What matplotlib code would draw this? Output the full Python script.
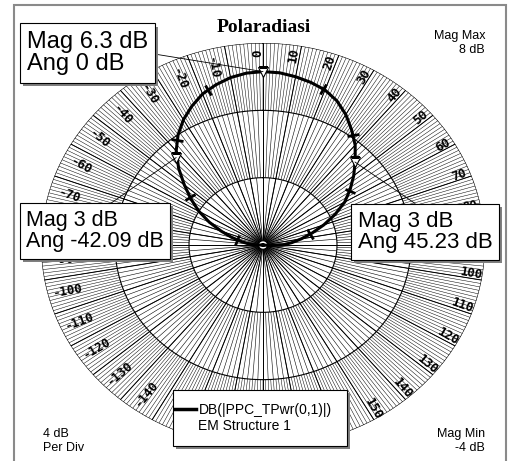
import numpy as np
import matplotlib
matplotlib.use('Agg')
import matplotlib.pyplot as plt
from matplotlib import patheffects as pe
from matplotlib.markers import MarkerStyle
from matplotlib.transforms import Affine2D
from matplotlib.patches import Rectangle
from matplotlib.lines import Line2D

plt.rcParams['font.family'] = ['Liberation Sans', 'DejaVu Sans']

# trace DB(|PPC_TPwr(0,1)|): angle (deg) vs magnitude (dB)
angle_deg = np.array([-100, -95, -90, -85, -80, -75, -70, -65, -60, -55, -50, -45, -40,
                      -35, -30, -25, -20, -15, -10, -5, 0, 5, 10, 15, 20, 25, 30, 35,
                      40, 45, 50, 55, 60, 65, 70, 75, 80, 85, 90, 95, 100])
mag_db = np.array([-4.5, -4.1, -3.6, -3.2, -2.8, -2.25, -1.6, -0.8, 0.0, 0.75, 1.55, 2.45, 3.3,
                   4.0, 4.6, 5.1, 5.55, 5.85, 6.1, 6.25, 6.3, 6.27, 6.15, 6.0, 5.8, 5.45, 4.95, 4.35,
                   3.75, 3.05, 2.4, 1.75, 1.1, 0.3, -0.5, -1.25, -1.9, -2.45, -2.95, -3.6, -4.3])
# symbols drawn on the trace
symbol_angles = [-77.5, -54.1, -36.7, -17.9, 19.2, 36.6, 55.5, 76]
symbol_mags = [-2.55, 0.9, 3.78, 5.68, 5.83, 4.16, 1.68, -1.38]

# markers
marker_angles = [0, -42.09, 45.23]
marker_mags = [6.3, 3, 3]
marker_texts = ['Mag 6.3 dB\nAng 0 dB', 'Mag 3 dB\nAng -42.09 dB', 'Mag 3 dB\nAng 45.23 dB']

mag_min, mag_max, per_div = -4, 8, 4
angle_labels = np.arange(-140, 151, 10)

W, H = 512, 461
fig = plt.figure(figsize=(W / 100, H / 100), dpi=100)
ax = fig.add_axes([41 / W, 14 / H, 444 / W, 404 / H], projection='polar')
ax.set_aspect('auto')
ax.set_theta_zero_location('N')
ax.set_theta_direction(-1)
ax.set_rlim(mag_min, mag_max)
ax.set_xticks([])
ax.set_yticks([])
ax.grid(False)
ax.spines['polar'].set_visible(False)

# grid: rings and spokes (denser towards the rim)
theta_full = np.linspace(0, 2 * np.pi, 721)
for lev in np.arange(mag_min + per_div, mag_max + 1, per_div):
    ax.plot(theta_full, np.full_like(theta_full, lev), color='black', lw=0.8, zorder=2)


def spokes(step, r0, r1, lw):
    th = np.deg2rad(np.arange(0, 360, step))
    ax.vlines(th, r0, r1, colors='black', lw=lw, zorder=1)


spokes(5, mag_min, 0, 0.45)
spokes(2, 0, 4, 0.4)
spokes(1, 4, mag_max, 0.35)
spokes(10, mag_min, mag_max, 0.7)

for a in angle_labels:
    if a >= 0:
        rot, off, rr = 90 - a, -1.5, 7.4
    else:
        rot, off, rr = -90 - a, -4.5, 6.9
    ax.text(np.deg2rad(a + off), rr, str(a), rotation=rot, rotation_mode='anchor',
            ha='center', va='center', fontsize=9, family='DejaVu Sans Mono',
            weight='bold', zorder=3)

# center dot
ax.fill(theta_full, np.full_like(theta_full, -3.75), fc='white', ec='black', lw=0.8, zorder=4)

# trace
th = np.deg2rad(angle_deg)
r_trace = np.clip(mag_db, mag_min, None)
ax.plot(th, r_trace, color='black', lw=2.2, zorder=5)

pts = ax.transData.transform(np.column_stack([th, r_trace]))
for a, m in zip(symbol_angles, symbol_mags):
    i = int(np.searchsorted(angle_deg, a))
    d = pts[i] - pts[i - 1]
    phi = np.degrees(np.arctan2(d[1], d[0]))
    ms = MarkerStyle('|', transform=Affine2D().rotate_deg(phi))
    ax.plot(np.deg2rad(a), m, marker=ms, ms=8.5, mew=2.0, color='black', zorder=6)

ax.plot(np.deg2rad(marker_angles), marker_mags, ls='none', marker='v', ms=7.5,
        mfc='white', mec='black', mew=0.8, zorder=7)

# marker label boxes (left edge / vertical center in pixels from top-left)
box_pos = [(27, 53, 17, (1, 0.5)), (26, 231, 15.5, (0.55, 1)), (358, 232, 16, (0.5, 1))]
for (x, y, fs, rel), a, m, s in zip(box_pos, marker_angles, marker_mags, marker_texts):
    ann = ax.annotate(s, xy=(np.deg2rad(a), m), xycoords='data',
                      xytext=(x, H - y), textcoords='figure pixels',
                      ha='left', va='center', fontsize=fs, linespacing=1.05,
                      bbox=dict(boxstyle='square,pad=0.3', fc='white', ec='black', lw=0.8),
                      arrowprops=dict(arrowstyle='-', color='black', lw=0.6,
                                      relpos=rel, shrinkA=0, shrinkB=0),
                      zorder=10, annotation_clip=False)
    ann.get_bbox_patch().set_path_effects(
        [pe.SimplePatchShadow(offset=(2.2, -2.2), shadow_rgbFace='#808080', alpha=1), pe.Normal()])

# title and corner notes
fig.text(264 / W, 1 - 27 / H, 'Polaradiasi', ha='center', va='center', fontsize=14,
         family='Liberation Serif', weight='bold')
fig.text(485 / W, 1 - 53 / H, 'Mag Max\n%d dB' % mag_max, ha='right', va='baseline', fontsize=9)
fig.text(485 / W, 1 - 451 / H, 'Mag Min\n%d dB' % mag_min, ha='right', va='baseline', fontsize=9)
fig.text(43 / W, 1 - 451 / H, '%d dB\nPer Div' % per_div, ha='left', va='baseline', fontsize=9)

# legend box
leg_box = Rectangle((173 / W, 1 - 446 / H), 174 / W, 56 / H, transform=fig.transFigure,
                    fc='white', ec='black', lw=0.8, zorder=20)
leg_box.set_path_effects([pe.SimplePatchShadow(offset=(2.2, -2.2), shadow_rgbFace='#808080', alpha=1),
                          pe.Normal()])
fig.patches.append(leg_box)
h1 = Line2D([], [], color='black', lw=2.5)
h2 = Line2D([], [], color='none')
leg = fig.legend([h1, h2], ['DB(|PPC_TPwr(0,1)|)', 'EM Structure 1'], loc='upper left',
                 bbox_to_anchor=(172 / W, 1 - 400 / H), frameon=False, fontsize=10,
                 handlelength=1.5, handletextpad=0.2, borderpad=0.2, labelspacing=0.15,
                 borderaxespad=0)
leg.set_zorder(21)

# outer frame
fig.patches.append(Rectangle((14 / W, -0.05), 492 / W, (H - 5) / H + 0.05,
                             transform=fig.transFigure, fill=False, ec='#8a8a8a', lw=1.5))

fig.savefig('out.png', dpi=100)
